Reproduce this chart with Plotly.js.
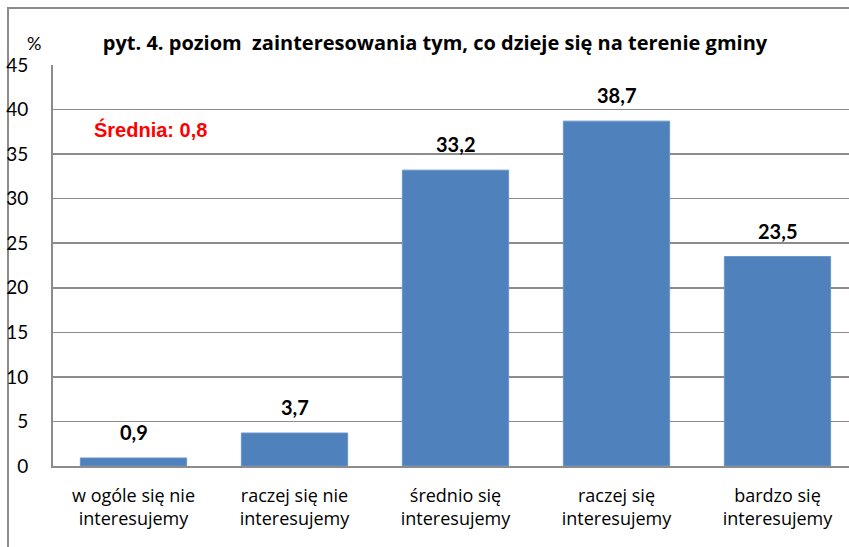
<!DOCTYPE html>
<html>
<head>
<meta charset="utf-8">
<script src="https://cdn.plot.ly/plotly-3.0.1.min.js"></script>
<style>
html,body{margin:0;padding:0;overflow:hidden;background:#fff;width:849px;height:547px;}
#frame{position:absolute;left:7px;top:7px;width:900px;height:600px;border-left:2px solid #8c8c8c;border-top:2px solid #8c8c8c;}
#chart{position:absolute;left:0;top:0;width:860px;height:547px;}
</style>
</head>
<body>
<div id="frame"></div>
<div id="chart"></div>
<script>
const categories = [
  "w ogóle się nie<br>interesujemy",
  "raczej się nie<br>interesujemy",
  "średnio się<br>interesujemy",
  "raczej się<br>interesujemy",
  "bardzo się<br>interesujemy"
];
const values = [0.9, 3.7, 33.2, 38.7, 23.5];
const yTicks = [0, 5, 10, 15, 20, 25, 30, 35, 40, 45];
const titleText = "pyt. 4. poziom  zainteresowania tym, co dzieje się na terenie gminy";
const meanText = "Średnia: 0,8";
const unitText = "%";

const fmt = v => v.toFixed(1).replace('.', ',');

const trace = {
  type: 'bar',
  x: categories,
  y: values,
  width: 0.66,
  marker: {color: '#4F81BD', line: {color: '#6b95c8', width: 1}},
  hoverinfo: 'none'
};

const annotations = values.map((v, i) => ({
  x: categories[i], y: v, xref: 'x', yref: 'y',
  text: '<b>' + fmt(v) + '</b>', showarrow: false,
  yanchor: 'bottom', yshift: 12,
  font: {family: 'Lato, "Open Sans", sans-serif', size: 20, color: '#000'}
}));
annotations.push({
  xref: 'paper', yref: 'y', x: 39/805, y: 37.8, xanchor: 'left', yanchor: 'middle',
  text: '<b>' + meanText + '</b>', showarrow: false,
  font: {family: '"Liberation Sans", Arial, sans-serif', size: 20, color: '#FF0000'}
});
annotations.push({
  xref: 'paper', yref: 'paper', x: -19/805, y: (466-43)/401, xanchor: 'center', yanchor: 'middle',
  text: unitText, showarrow: false,
  font: {family: 'Lato, "Open Sans", sans-serif', size: 18, color: '#000'}
});

const layout = {
  width: 860, height: 547,
  margin: {l: 53, r: 2, t: 65, b: 81},
  paper_bgcolor: 'rgba(0,0,0,0)',
  plot_bgcolor: 'rgba(0,0,0,0)',
  showlegend: false,
  title: {
    text: '<b>' + titleText + '</b>',
    x: 435/860, xanchor: 'center',
    y: 1 - 43/547, yanchor: 'middle',
    font: {family: '"Open Sans", Lato, sans-serif', size: 20, color: '#000'}
  },
  xaxis: {
    showline: true, linecolor: '#8c8c8c', linewidth: 2,
    showgrid: false, ticks: '',
    ticklabelstandoff: 12,
    tickfont: {family: '"Open Sans", Lato, sans-serif', size: 18, color: '#000'}
  },
  yaxis: {
    range: [0, 45], tickvals: yTicks, ticktext: yTicks.map(String),
    showline: true, linecolor: '#8c8c8c', linewidth: 2,
    showgrid: true, gridcolor: '#8c8c8c', gridwidth: 1.5,
    zeroline: false, ticks: '',
    ticklabelstandoff: 19,
    tickfont: {family: 'Lato, "Open Sans", sans-serif', size: 19, color: '#000'}
  },
  annotations: annotations
};

Plotly.newPlot('chart', [trace], layout, {displayModeBar: false, staticPlot: true});
</script>
</body>
</html>
